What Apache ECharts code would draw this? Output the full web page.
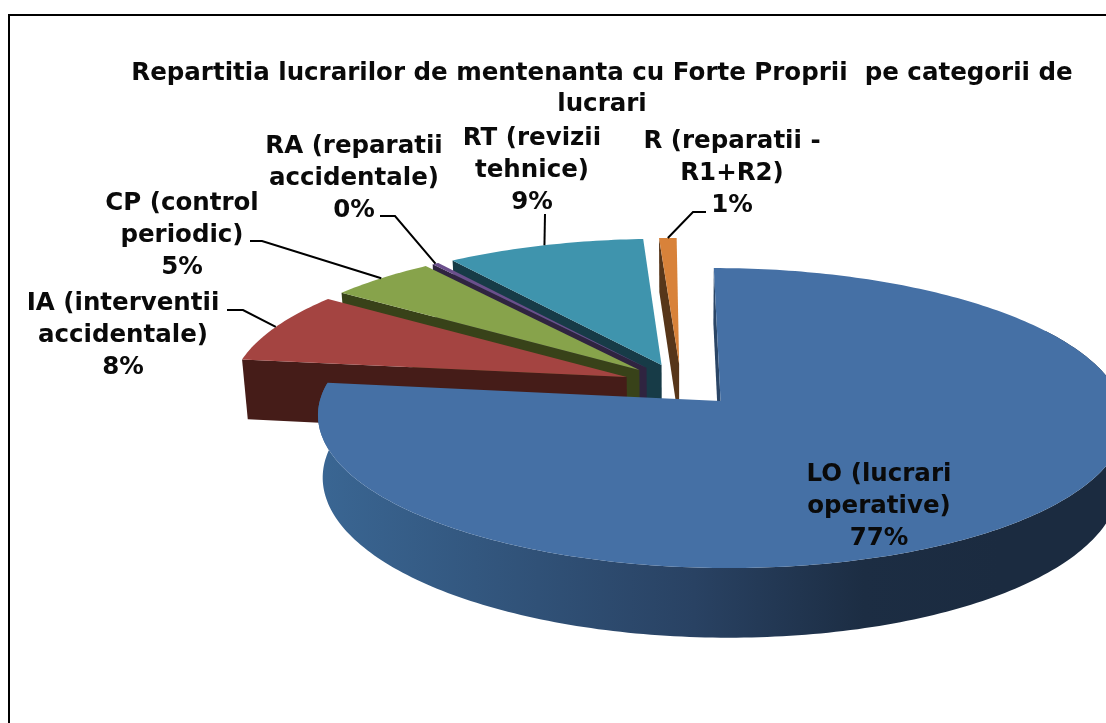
<!DOCTYPE html>
<html>
<head>
<meta charset="utf-8">
<title>Repartitia lucrarilor de mentenanta</title>
<script src="https://cdn.jsdelivr.net/npm/echarts@6/dist/echarts.min.js"></script>
<style>
    html, body { margin: 0; padding: 0; background: #fff; }
    #chart { width: 1106px; height: 723px; }
</style>
</head>
<body>
<div id="chart"></div>
<script>
// chart values, clockwise from 12 o'clock
const categories = ['LO', 'IA', 'CP', 'RA', 'RT', 'R'];
const values = [77, 7.9, 4.9, 0.3, 9.1, 0.8];
const labelLines = [
    ['LO (lucrari', 'operative)'],
    ['IA (interventii', 'accidentale)'],
    ['CP (control', 'periodic)'],
    ['RA (reparatii', 'accidentale)'],
    ['RT (revizii', 'tehnice)'],
    ['R (reparatii -', 'R1+R2)']
];
const titleText = 'Repartitia lucrarilor de mentenanta cu Forte Proprii  pe categorii de\nlucrari';

// colours per slice
const topColors = ['#4570a5', '#a44441', '#87a34b', '#6b4f8c', '#3f94ad', '#d8823a'];
const sideColors = ['#2a4566', '#451c18', '#384219', '#2f2440', '#173b47', '#57361a'];

// label placement: centre of the first line, then the elbow of the leader line
const labelCenters = [[879, 475], [123, 304], [182, 204], [354, 147], [532, 139], [732, 142]];
const leaderElbows = [null, [[243, 310], [227, 310]], [[262, 241], [250, 241]], [[395, 216], [380, 216]], [[545, 214]], [[693, 212], [706, 212]]];

// the tilted pie: centre, radii, perspective, thickness, explosion
const CX = 681, CY = 384.8, RX = 395.8, RY = 144.4;
const PERSP = 0.112, SKEW = -3, DEPTH = 61, BOTTOM_SCALE = 0.987, EXPLODE = 0.148;

const total = values.reduce((a, b) => a + b, 0);
const DEG = Math.PI / 180;

function project(u, v) {
    const w = 1 + PERSP * v;
    return [CX + (RX * u + SKEW * v) / w, CY - RY * v / w];
}

function lower(p, v) {
    return [CX + (p[0] - CX) * BOTTOM_SCALE, p[1] + DEPTH / (1 + PERSP * v)];
}

// slice geometry in disk space, all derived from the values
let running = 0;
const slices = values.map((value, i) => {
    const start = running / total * 360;
    running += value;
    const end = running / total * 360;
    const mid = (start + end) / 2;
    return {
        index: i,
        start: start,
        end: end,
        mid: mid,
        ou: EXPLODE * Math.sin(mid * DEG),
        ov: EXPLODE * Math.cos(mid * DEG)
    };
});

function rimPoint(s, deg) {
    return {
        u: s.ou + Math.sin(deg * DEG),
        v: s.ov + Math.cos(deg * DEG)
    };
}

function textEl(text, x, y) {
    return {
        type: 'text',
        z2: 50,
        style: {
            text: text,
            x: x,
            y: y,
            textAlign: 'center',
            textVerticalAlign: 'middle',
            fontFamily: 'DejaVu Sans',
            fontWeight: 'bold',
            fontSize: 24.5,
            fill: '#0a0a0a'
        }
    };
}

function renderSlice(params) {
    const s = slices[slices.length - 1 - params.dataIndex];
    const i = s.index;
    const children = [];
    const apex = project(s.ou, s.ov);
    const apexLow = lower(apex, s.ov);

    const topPts = [apex];
    for (let a = s.start; a < s.end; a += 1) {
        const r = rimPoint(s, a);
        topPts.push(project(r.u, r.v));
    }
    const rEnd = rimPoint(s, s.end);
    topPts.push(project(rEnd.u, rEnd.v));

    // cut face at the start edge of the slice
    const r0 = rimPoint(s, s.start);
    const p0 = project(r0.u, r0.v);
    children.push({
        type: 'polygon',
        shape: { points: [apex, p0, lower(p0, r0.v), apexLow] },
        style: { fill: sideColors[i] }
    });

    // the big slice shows its outer wall as well
    if (i === 0) {
        const upper = [];
        const under = [];
        for (let a = 60; a <= s.end; a += 1) {
            const r = rimPoint(s, a);
            const p = project(r.u, r.v);
            upper.push(p);
            under.unshift(lower(p, r.v));
        }
        children.push({
            type: 'polygon',
            shape: { points: upper.concat(under) },
            style: {
                fill: {
                    type: 'linear',
                    global: true,
                    x: 320, y: 0, x2: 1000, y2: 0,
                    colorStops: [
                        { offset: 0, color: '#3a6693' },
                        { offset: 0.55, color: '#294263' },
                        { offset: 0.8, color: '#1c2d43' },
                        { offset: 1, color: '#1b2b40' }
                    ]
                }
            }
        });
    }

    children.push({
        type: 'polygon',
        shape: { points: topPts },
        style: { fill: topColors[i] }
    });

    // label and leader line
    const c = labelCenters[i];
    const lines = labelLines[i].concat([Math.round(values[i]) + '%']);
    lines.forEach((line, k) => {
        children.push(textEl(line, c[0], c[1] + k * 32));
    });
    if (leaderElbows[i]) {
        const m = rimPoint(s, s.mid);
        children.push({
            type: 'polyline',
            z2: 40,
            shape: { points: [project(m.u, m.v)].concat(leaderElbows[i]) },
            style: { fill: 'none', stroke: '#000', lineWidth: 2 }
        });
    }
    return { type: 'group', children: children };
}

const chart = echarts.init(document.getElementById('chart'));
chart.setOption({
    animation: false,
    backgroundColor: '#fff',
    title: {
        text: titleText,
        left: 597,
        top: 53,
        textAlign: 'center',
        textStyle: {
            fontFamily: 'DejaVu Sans',
            fontWeight: 'bold',
            fontSize: 24.5,
            lineHeight: 31,
            color: '#0a0a0a'
        }
    },
    graphic: [{
        type: 'polyline',
        shape: { points: [[9, 723], [9, 15], [1106, 15]] },
        style: { fill: 'none', stroke: '#000', lineWidth: 2 }
    }],
    series: [{
        type: 'custom',
        coordinateSystem: 'none',
        clip: false,
        silent: true,
        data: slices.slice().reverse().map(s => values[s.index]),
        renderItem: renderSlice
    }]
});
</script>
</body>
</html>
